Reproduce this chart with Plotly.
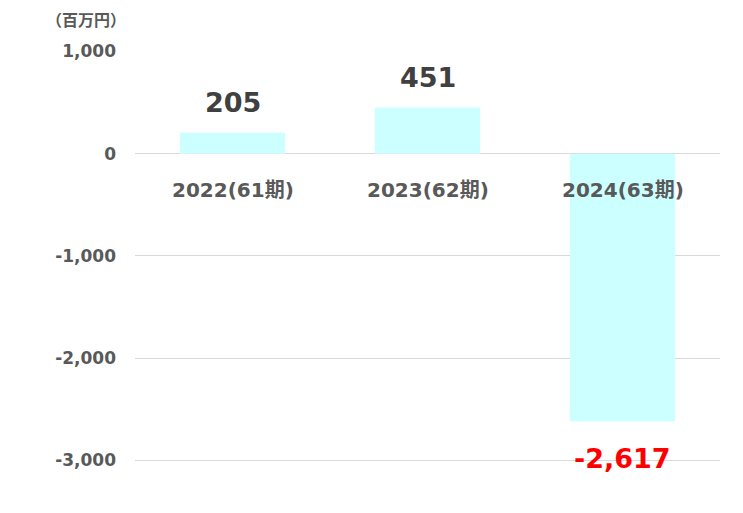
import plotly.graph_objects as go

categories = ["2022(61期)", "2023(62期)", "2024(63期)"]
values = [205, 451, -2617]
label_colors = ["#404040", "#404040", "#FF0000"]
y_ticks = [1000, 0, -1000, -2000, -3000]
y_tick_text = ["1,000", "0", "-1,000", "-2,000", "-3,000"]

FONT = "DejaVu Sans, Noto Sans CJK JP, sans-serif"

fig = go.Figure()
fig.add_trace(go.Bar(
    x=categories, y=values,
    marker=dict(color="#CCFFFF", line=dict(width=0)),
    width=0.54,
    hoverinfo="x+y",
))

# value labels above / below each bar
for c, v, col in zip(categories, values, label_colors):
    fig.add_annotation(
        x=c, y=v, xref="x", yref="y",
        text=f"{v:,}", showarrow=False,
        yanchor="bottom" if v >= 0 else "top",
        yshift=13 if v >= 0 else -20,
        font=dict(family=FONT, size=27, color=col, weight="bold"),
    )

# category labels sit just under the zero line
for c in categories:
    fig.add_annotation(
        x=c, y=0, xref="x", yref="y",
        text=c, showarrow=False, yanchor="top", yshift=-22,
        font=dict(family=FONT, size=20, color="#595959", weight="bold"),
    )

# unit label
fig.add_annotation(
    x=-0.083, y=1.075, xref="x domain", yref="y domain", text="（百万円）",
    showarrow=False, xanchor="center", yanchor="middle",
    font=dict(family=FONT, size=16, color="#595959", weight="bold"),
)

# page body has an 8px margin, so size the figure to fit inside it
fig.update_layout(
    width=727, height=497,
    margin=dict(l=127, r=15, t=43, b=41),
    plot_bgcolor="white", paper_bgcolor="white",
    showlegend=False,
    font=dict(family=FONT, color="#595959"),
)
fig.update_xaxes(showticklabels=False, showgrid=False, showline=False, zeroline=False)
fig.update_yaxes(
    range=[-3035, 1004], tickvals=y_ticks, ticktext=y_tick_text,
    showgrid=True, gridcolor="#D9D9D9", gridwidth=1.3,
    zeroline=True, zerolinecolor="#D9D9D9", zerolinewidth=1.3,
    showline=False, ticks="", ticklabelstandoff=18,
    tickfont=dict(family=FONT, size=17, color="#595959", weight="bold"),
)

fig.write_html("out.html")
